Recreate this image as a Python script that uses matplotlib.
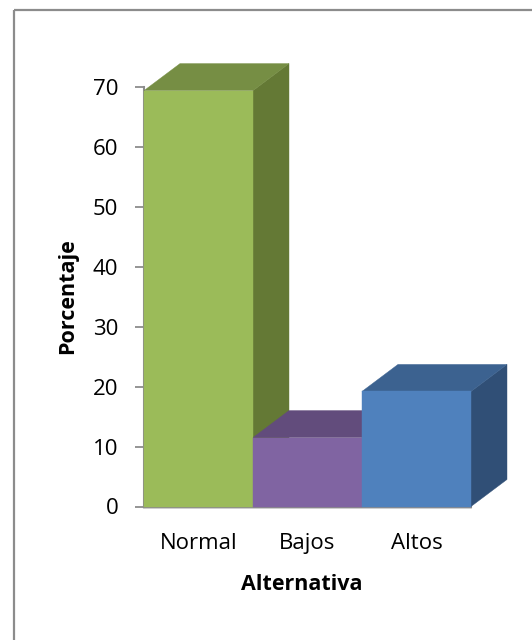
import matplotlib
matplotlib.use("Agg")
import matplotlib.pyplot as plt
from matplotlib.lines import Line2D
from matplotlib.patches import Polygon

# Survey results per alternative, in percent
categories = ["Normal", "Bajos", "Altos"]
values = [69.4, 11.5, 19.2]
front_colors = ["#9BBB59", "#8064A2", "#4F81BD"]
top_colors = ["#768E44", "#624C7C", "#3C6290"]
side_colors = ["#647935", "#503F67", "#304F76"]
yticks = [0, 10, 20, 30, 40, 50, 60, 70]

W, H = 532, 640
plt.rcParams["font.family"] = ["Open Sans", "DejaVu Sans"]

fig = plt.figure(figsize=(W / 100, H / 100), dpi=100, facecolor="white")

# Chart frame: only the top and left edges fall inside the canvas
frame = dict(transform=fig.transFigure, color="#8C8C8C", lw=1.6, zorder=-1, solid_capstyle="butt")
fig.add_artist(Line2D([13.5 / W, 1], [1 - 9.5 / H, 1 - 9.5 / H], **frame))
fig.add_artist(Line2D([13.5 / W, 13.5 / W], [0, 1 - 9.5 / H], **frame))

ax = fig.add_axes([144 / W, 1 - 506.5 / H, 327 / W, 419.5 / H])
ax.set_xlim(0, 3)
ax.set_ylim(0, 70)
ax.patch.set_alpha(0)

# Oblique depth of the 3D bars, in data units
dx = 36 / 109
dy = 27 / 5.99

# Light shadow along the floor
ax.plot([0, 3], [-0.3, -0.3], color="#C8C8C8", lw=1.2, clip_on=False, zorder=1)

# Painted left to right so each box overlaps the side of the previous one
for i, (v, fc, tc, sc) in enumerate(zip(values, front_colors, top_colors, side_colors)):
    z = 3 + 3 * i
    ax.add_patch(Polygon([(i + 1, 0), (i + 1 + dx, dy), (i + 1 + dx, v + dy), (i + 1, v)],
                         closed=True, fc=sc, ec=sc, lw=0.3, zorder=z, clip_on=False))
    ax.add_patch(Polygon([(i, v), (i + 1, v), (i + 1 + dx, v + dy), (i + dx, v + dy)],
                         closed=True, fc=tc, ec=tc, lw=0.3, zorder=z + 1, clip_on=False))
    ax.bar(i, v, width=1, align="edge", color=fc, ec=fc, lw=0.3, zorder=z + 2, clip_on=False)

for s in ("top", "right"):
    ax.spines[s].set_visible(False)
for s in ("left", "bottom"):
    ax.spines[s].set_color("#8C8C8C")
    ax.spines[s].set_linewidth(1.5)
    ax.spines[s].set_zorder(2)

ax.set_yticks(yticks)
ax.tick_params(axis="y", length=6.5, width=1.3, color="#8C8C8C", labelsize=16, pad=12, labelcolor="black")
ax.set_xticks([0.5, 1.5, 2.5])
ax.set_xticklabels(categories, va="baseline")
ax.tick_params(axis="x", length=0, labelsize=16, pad=30.6, labelcolor="black")

fig.text(68 / W, 1 - 296 / H, "Porcentaje", rotation=90, ha="center", va="center",
         fontsize=15.5, fontweight="bold")
fig.text(301.5 / W, 1 - 585 / H, "Alternativa", ha="center", va="center",
         fontsize=15.5, fontweight="bold")

fig.savefig("out.png", dpi=100)
